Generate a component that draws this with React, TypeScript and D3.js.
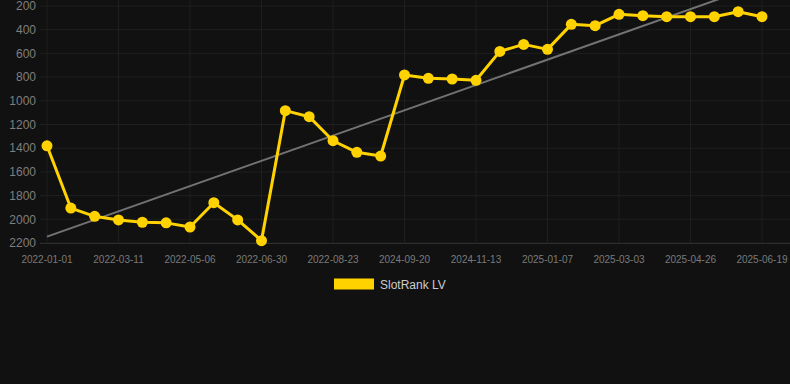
import React from "react";
import * as d3 from "d3";

const W = 790;
const H = 384;

const seriesName = "SlotRank LV";
const rankValues = [
  1380, 1905, 1975, 2005, 2025, 2030, 2065, 1860, 2005, 2180,
  1083, 1134, 1337, 1435, 1466, 782, 810, 816, 827, 583,
  524, 566, 355, 366, 270, 282, 290, 290, 290, 248, 290,
];
const tickLabels = [
  "2022-01-01", "2022-03-11", "2022-05-06", "2022-06-30", "2022-08-23",
  "2024-09-20", "2024-11-13", "2025-01-07", "2025-03-03", "2025-04-26", "2025-06-19",
];
const tickEvery = 3;
const yTicks = [200, 400, 600, 800, 1000, 1200, 1400, 1600, 1800, 2000, 2200];

export default function App() {
  const idx = rankValues.map((_, i) => i);
  const x = d3.scalePoint<number>().domain(idx).range([47, 762]);
  const y = d3.scaleLinear().domain([200, 2200]).range([6, 243]);

  const n = rankValues.length;
  const mx = d3.mean(idx)!;
  const my = d3.mean(rankValues)!;
  const sxy = d3.sum(idx, (i) => (i - mx) * (rankValues[i] - my));
  const sxx = d3.sum(idx, (i) => (i - mx) * (i - mx));
  const slope = sxy / sxx;
  const icpt = my - slope * mx;

  const line = d3
    .line<number>()
    .x((i) => x(i)!)
    .y((i) => y(rankValues[i]));

  const plotLeft = 40;
  const plotRight = 790;
  const plotTop = 0;
  const plotBottom = 243;

  return (
    <svg
      width={W}
      height={H}
      style={{ position: "absolute", left: 0, top: 0, background: "#111111" }}
      fontFamily="Liberation Sans, Arial, sans-serif"
    >
      <defs>
        <clipPath id="plotclip">
          <rect x={plotLeft} y={plotTop} width={plotRight - plotLeft} height={plotBottom - plotTop} />
        </clipPath>
      </defs>
      <rect x={0} y={0} width={W} height={H} fill="#111111" />
      {yTicks.map((t) => (
        <line key={"gy" + t} x1={plotLeft} x2={plotRight} y1={y(t)} y2={y(t)} stroke="#1f1f1f" strokeWidth={1} />
      ))}
      {tickLabels.map((lab, k) => {
        const xx = x(k * tickEvery)!;
        return <line key={"gx" + lab} x1={xx} x2={xx} y1={plotTop} y2={plotBottom} stroke="#1f1f1f" strokeWidth={1} />;
      })}
      <line x1={plotLeft} x2={plotRight} y1={plotBottom + 0.5} y2={plotBottom + 0.5} stroke="#2e2e2e" strokeWidth={1} />
      {yTicks.map((t) => (
        <text key={"ty" + t} x={36} y={y(t)} dy="0.35em" textAnchor="end" fontSize={12} fill="#7f7f7f">
          {t}
        </text>
      ))}
      {tickLabels.map((lab, k) => (
        <text key={"tx" + lab} x={x(k * tickEvery)!} y={259} dy="0.35em" textAnchor="middle" fontSize={10} fill="#7a7a7a">
          {lab}
        </text>
      ))}
      <g clipPath="url(#plotclip)">
        <line
          x1={x(0)!}
          y1={y(icpt)}
          x2={x(n - 1)!}
          y2={y(icpt + slope * (n - 1))}
          stroke="#737373"
          strokeWidth={2}
        />
      </g>
      <path d={line(idx)!} fill="none" stroke="#FFD200" strokeWidth={3} strokeLinejoin="round" />
      {idx.map((i) => (
        <circle key={"p" + i} cx={x(i)!} cy={y(rankValues[i])} r={5.5} fill="#FFD200" />
      ))}
      <rect x={334} y={278.5} width={40} height={11} fill="#FFD200" />
      <text x={380} y={284.5} dy="0.35em" fontSize={12} fill="#cccccc">
        {seriesName}
      </text>
    </svg>
  );
}
